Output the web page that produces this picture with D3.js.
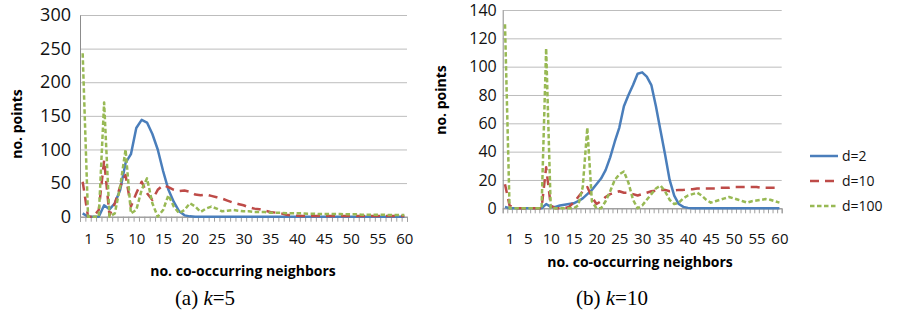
<!DOCTYPE html>
<html>
<head>
<meta charset="utf-8">
<script src="https://cdn.jsdelivr.net/npm/d3@7"></script>
<style>
  body { margin: 0; background: #fff; }
</style>
</head>
<body>
<div id="canvas"></div>
<script>
// categories: no. co-occurring neighbors, 0..60
var cats = d3.range(0, 61)
var xTickLabels = [1, 5, 10, 15, 20, 25, 30, 35, 40, 45, 50, 55, 60]
var yTicksA = [0, 50, 100, 150, 200, 250, 300]
var yTicksB = [0, 20, 40, 60, 80, 100, 120, 140]
var seriesNames = ['d=2', 'd=10', 'd=100']

// (a) k=5
var blueA = [5, 0, 0, 0, 17, 11, 20, 40, 80, 93, 132, 144, 140, 123, 100, 68, 40, 22, 8, 2,
  0.5, 0, 0, 0, 0, 0, 0, 0, 0, 0, 0, 0, 0, 0, 0, 0, 0, 0, 0, 0,
  0, 0, 0, 0, 0, 0, 0, 0, 0, 0, 0, 0, 0, 0, 0, 0, 0, 0, 0, 0, 0]
var redA = [52, 0, 0, 10, 84, 2, 20, 45, 62, 15, 35, 52, 35, 25, 40, 47, 44, 40, 38, 39,
  37, 33, 32, 33, 31, 29, 27, 24, 21, 19, 17, 14, 12, 11, 9, 7, 6, 5, 3, 2,
  1.5, 1, 1, 1, 1, 1, 1, 1, 1, 1, 1, 1, 1, 1, 1, 1, 1, 1, 1, 1, 1]
var greenA = [243, 0, 0, 0, 170, 0, 5, 45, 100, 5, 10, 40, 57, 20, 0, 10, 32, 15, 5, 10,
  20, 15, 7, 12, 15, 12, 8, 9, 10, 9, 8, 8, 7, 7, 7, 6, 6, 6, 5, 5,
  5, 5, 4.5, 4.5, 4, 4, 4, 4, 4, 3.5, 3.5, 3.5, 3, 3, 3, 3, 3, 2.5, 2.5, 2.5, 2.5]

// (b) k=10
var blueB = [1, 0, 0, 0, 0, 0, 0, 0, 0, 3, 1, 1, 2, 2.5, 3, 3.5, 5, 7, 10, 13,
  17, 21, 27, 36, 47, 57, 72, 80, 87, 95, 96, 93, 87, 72, 55, 38, 20, 9, 3, 1,
  0.3, 0, 0, 0, 0, 0, 0, 0, 0, 0, 0, 0, 0, 0, 0, 0, 0, 0, 0, 0, 0]
var redB = [17, 2, 0, 0, 0, 0, 0, 0, 0, 29, 2, 0, 0, 0, 1, 4, 8, 12, 15, 8,
  3, 5, 8, 10, 11, 12, 11, 11, 10, 9, 10, 11, 12, 12.5, 13, 13, 12, 12.5, 13, 13,
  13.5, 13.5, 14, 14, 14, 14, 14, 14.5, 14.5, 14.5, 15, 15, 15, 15, 15, 15, 14.5, 14.5, 14.5, 14.5, 14.5]
var greenB = [130, 0, 0, 0, 0, 0, 0, 0, 0, 113, 0, 0, 0, 0, 0, 0, 2, 15, 57, 5,
  0, 0, 5, 12, 20, 24, 26, 18, 6, 0, 2, 6, 10, 14, 16, 12, 6, 3, 4, 7,
  9, 10, 11, 9, 6, 4, 5, 6, 7, 8, 7, 6, 5, 4, 5, 5.5, 6, 6.5, 6, 5, 4]

var colors = ['#4a7ebb', '#be4b48', '#98b954']
var dashes = [null, '9,6', '4.5,2.5']

var svg = d3.select('#canvas').append('svg')
  .attr('width', 903)
  .attr('height', 320)
  .style('font-family', 'Open Sans')

var drawPanel = function (p) {
  var g = svg.append('g')
  var x = d3.scalePoint().domain(cats).range([p.left, p.right]).padding(0.5)
  var xEdge = d3.scaleLinear().domain([0, cats.length]).range([p.left, p.right])
  var y = d3.scaleLinear().domain([0, p.ymax]).range([p.bottom, p.top])

  // gridlines
  g.append('g')
    .attr('transform', 'translate(' + p.left + ',0)')
    .call(d3.axisLeft(y).tickValues(p.yTicks).tickSize(-(p.right - p.left)).tickFormat(''))
    .call(function (a) { a.select('.domain').remove() })
    .selectAll('line').attr('stroke', '#bdbdbd')

  // y labels
  g.append('g')
    .attr('transform', 'translate(' + p.left + ',0)')
    .call(d3.axisLeft(y).tickValues(p.yTicks).tickSize(0).tickPadding(p.yPad))
    .call(function (a) {
      a.select('.domain').attr('stroke', '#8c8c8c')
      a.selectAll('text').attr('font-size', p.yFont).attr('fill', '#111').attr('font-family', 'Open Sans')
    })

  // x tick marks at category edges
  g.append('g')
    .attr('transform', 'translate(0,' + p.bottom + ')')
    .call(d3.axisBottom(xEdge).tickValues(d3.range(0, cats.length + 1)).tickSize(5).tickFormat(''))
    .call(function (a) {
      a.select('.domain').attr('stroke', '#8c8c8c')
      a.selectAll('line').attr('stroke', '#a0a0a0')
    })

  // x labels
  g.append('g')
    .attr('transform', 'translate(0,' + p.bottom + ')')
    .call(d3.axisBottom(x).tickValues(xTickLabels).tickSize(0).tickPadding(p.xPad))
    .call(function (a) {
      a.select('.domain').remove()
      a.selectAll('text').attr('font-size', 15).attr('fill', '#111').attr('font-family', 'Open Sans')
    })

  var line = d3.line()
    .x(function (d, i) { return x(cats[i]) })
    .y(function (d) { return y(d) })

  p.series.forEach(function (s, i) {
    g.append('path')
      .datum(s)
      .attr('d', line)
      .attr('fill', 'none')
      .attr('stroke', colors[i])
      .attr('stroke-width', 2.5)
      .attr('stroke-linejoin', 'round')
      .attr('stroke-dasharray', dashes[i])
  })

  g.append('text')
    .attr('transform', 'translate(' + p.yTitleX + ',' + p.yTitleY + ') rotate(-90)')
    .attr('text-anchor', 'middle')
    .attr('font-size', 14)
    .attr('font-weight', 'bold')
    .text('no. points')

  g.append('text')
    .attr('x', p.xTitleX)
    .attr('y', p.xTitleY)
    .attr('text-anchor', 'middle')
    .attr('font-size', 14)
    .attr('font-weight', 'bold')
    .text('no. co-occurring neighbors')

  var cap = g.append('text')
    .attr('x', p.capX)
    .attr('y', 305)
    .attr('text-anchor', 'middle')
    .attr('font-family', 'Liberation Serif')
    .attr('font-size', 21)
  cap.append('tspan').text(p.capLabel + ' ')
  cap.append('tspan').attr('font-style', 'italic').text('k')
  cap.append('tspan').text('=' + p.k)
}

drawPanel({
  left: 80, right: 407, top: 15, bottom: 216.7, ymax: 300, yTicks: yTicksA,
  yFont: 18, yPad: 9, xPad: 17,
  series: [blueA, redA, greenA],
  yTitleX: 22, yTitleY: 124, xTitleX: 243, xTitleY: 276,
  capX: 205, capLabel: '(a)', k: 5
})

drawPanel({
  left: 502.7, right: 781.7, top: 10, bottom: 208.3, ymax: 140, yTicks: yTicksB,
  yFont: 16, yPad: 6, xPad: 25,
  series: [blueB, redB, greenB],
  yTitleX: 446, yTitleY: 100, xTitleX: 640, xTitleY: 267,
  capX: 612, capLabel: '(b)', k: 10
})

// legend
var legend = svg.append('g')
seriesNames.forEach(function (name, i) {
  var ly = 156 + i * 25
  legend.append('line')
    .attr('x1', 810).attr('x2', 838)
    .attr('y1', ly).attr('y2', ly)
    .attr('stroke', colors[i])
    .attr('stroke-width', 2.5)
    .attr('stroke-dasharray', dashes[i])
  legend.append('text')
    .attr('x', 842).attr('y', ly + 5)
    .attr('font-size', 14)
    .attr('fill', '#111')
    .text(name)
})
</script>
</body>
</html>
